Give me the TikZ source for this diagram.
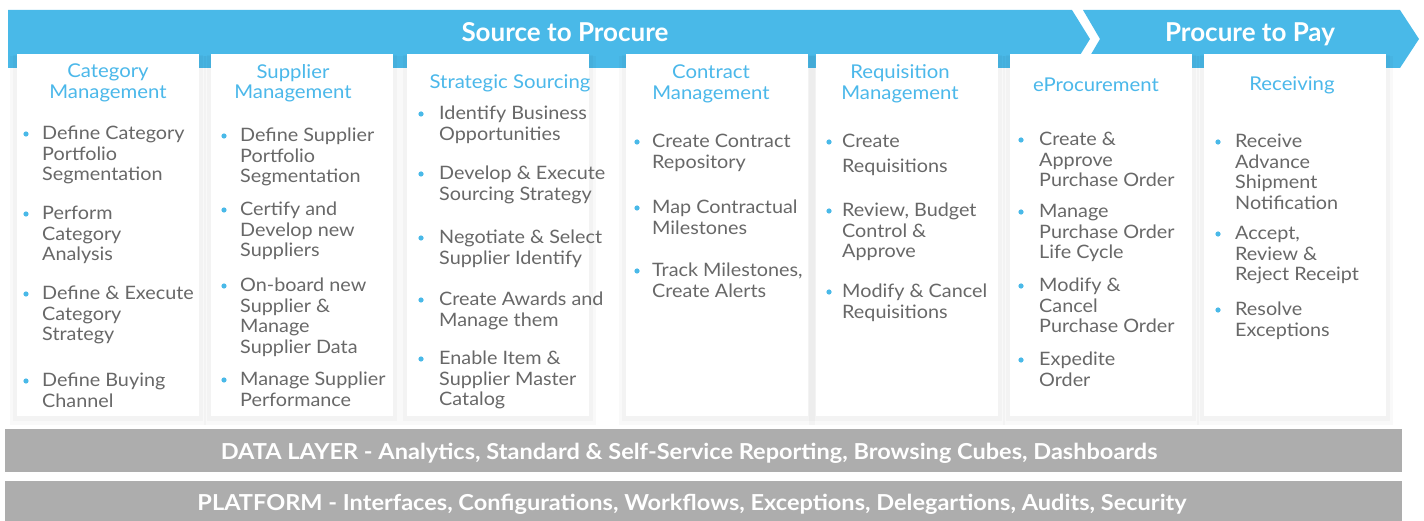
\documentclass[tikz,border=0pt]{standalone}
\usepackage{fontspec}
\setmainfont{Lato}
\newfontfamily\widefont[FakeStretch=1.07]{Lato}
\definecolor{banner}{HTML}{49B9E8}
\definecolor{headblue}{HTML}{4BB8EA}
\definecolor{bodygray}{HTML}{686868}
\definecolor{bargray}{HTML}{ADADAD}
\newcommand\bitem[5]{%
  \node[dot] (#1b) at (#2,#4) {};
  \node[item] (#1) at (#3,#4-8.6) {\strut #5};
}
\newcommand\colbox[3]{%
  \fill[black,opacity=0.025] (#2-7,#3+2) rectangle ++(196,369);
  \fill[black,opacity=0.025] (#2-4,#3+1) rectangle ++(190,366);
  \fill[white] (#2,#3) rectangle ++(182,362);
  \coordinate (#1) at (#2+91,#3);
}
\begin{document}
\begin{tikzpicture}[x=1pt,y=-1pt,
  item/.style={anchor=north west,inner sep=0pt,align=left,text=bodygray,
    font=\widefont\fontsize{18.5}{20.5}\selectfont},
  dot/.style={circle,fill=banner,inner sep=0pt,minimum size=5.2pt},
  head/.style={inner sep=0pt,align=center,text=headblue,
    font=\widefont\fontsize{19}{20.5}\selectfont},
  title/.style={inner sep=0pt,anchor=base,text=white,font=\fontsize{26}{28}\selectfont\bfseries},
  bartext/.style={inner sep=0pt,text=white,font=\widefont\fontsize{22}{24}\selectfont\bfseries}
]
\useasboundingbox (0,0) rectangle (1424,521);
% banner chevrons
\fill[banner] (8,10) -- (1072,10) -- (1090,39) -- (1072,68) -- (8,68) -- cycle;
\fill[banner] (1083,10) -- (1400,10) -- (1419,39) -- (1400,68) -- (1083,68) -- (1100,39) -- cycle;
\node[title] (s2p) at (565,41.5) {Source to Procure};
\node[title] (p2p) at (1250,41.5) {Procure to Pay};
% column boxes
\colbox{c1}{17}{54}
\colbox{c2}{211}{54}
\colbox{c3}{407}{54}
\colbox{c4}{626}{54}
\colbox{c5}{816}{54}
\colbox{c6}{1010}{54}
\colbox{c7}{1204}{54}
% headers
\node[head] (h1) at (108,83) {Category\\Management};
\node[head] (h2) at (293,83) {Supplier\\Management};
\node[head] (h3) at (510,83.5) {Strategic Sourcing};
\node[head] (h4) at (711,84) {Contract\\Management};
\node[head] (h5) at (900,84) {Requisition\\Management};
\node[head] (h6) at (1096,84.5) {eProcurement};
\node[head] (h7) at (1292,85) {Receiving};
% column 1
\bitem{a1}{26}{42}{134}{Define Category\\Portfolio\\Segmentation}
\bitem{a2}{26}{42}{214}{Perform\\Category\\Analysis}
\bitem{a3}{26}{42}{294}{Define \& Execute\\Category\\Strategy}
\bitem{a4}{26}{42}{381}{Define Buying\\Channel}
% column 2
\bitem{b1}{224}{240}{136}{Define Supplier\\Portfolio\\Segmentation}
\bitem{b2}{224}{240}{210}{Certify and\\Develop new\\Suppliers}
\bitem{b3}{224}{240}{286}{On-board new\\Supplier \&\\Manage\\Supplier Data}
\bitem{b4}{224}{240}{380}{Manage Supplier\\Performance}
% column 3
\bitem{d1}{421}{439}{114}{Identify Business\\Opportunities}
\bitem{d2}{421}{439}{174}{Develop \& Execute\\Sourcing Strategy}
\bitem{d3}{421}{439}{238}{Negotiate \& Select\\Supplier Identify}
\bitem{d4}{421}{439}{300}{Create Awards and\\Manage them}
\bitem{d5}{421}{439}{359}{Enable Item \&\\Supplier Master\\Catalog}
% column 4
\bitem{e1}{637}{652}{142}{Create Contract\\Repository}
\bitem{e2}{637}{652}{208}{Map Contractual\\Milestones}
\bitem{e3}{637}{652}{271}{Track Milestones,\\Create Alerts}
% column 5
\bitem{f1}{829}{842}{142}{Create\\[4.5pt]Requisitions}
\bitem{f2}{829}{842}{211}{Review, Budget\\Control \&\\Approve}
\bitem{f3}{829}{842}{292}{Modify \& Cancel\\Requisitions}
% column 6
\bitem{g1}{1021}{1039}{140}{Create \&\\Approve\\Purchase Order}
\bitem{g2}{1021}{1039}{212}{Manage\\Purchase Order\\Life Cycle}
\bitem{g3}{1021}{1039}{286}{Modify \&\\Cancel\\Purchase Order}
\bitem{g4}{1021}{1039}{360}{Expedite\\Order}
% column 7
\bitem{k1}{1218}{1235}{142}{Receive\\Advance\\Shipment\\Notification}
\bitem{k2}{1218}{1235}{234}{Accept,\\Review \&\\Reject Receipt}
\bitem{k3}{1218}{1235}{310}{Resolve\\Exceptions}
% bottom bars
\fill[bargray] (5,429) rectangle (1402,472);
\fill[bargray] (5,481) rectangle (1402,521);
\node[bartext] (data) at (689,453) {DATA LAYER - Analytics, Standard \& Self-Service Reporting, Browsing Cubes, Dashboards};
\node[bartext] (plat) at (692,504) {PLATFORM - Interfaces, Configurations, Workflows, Exceptions, Delegartions, Audits, Security};
\end{tikzpicture}
\end{document}
